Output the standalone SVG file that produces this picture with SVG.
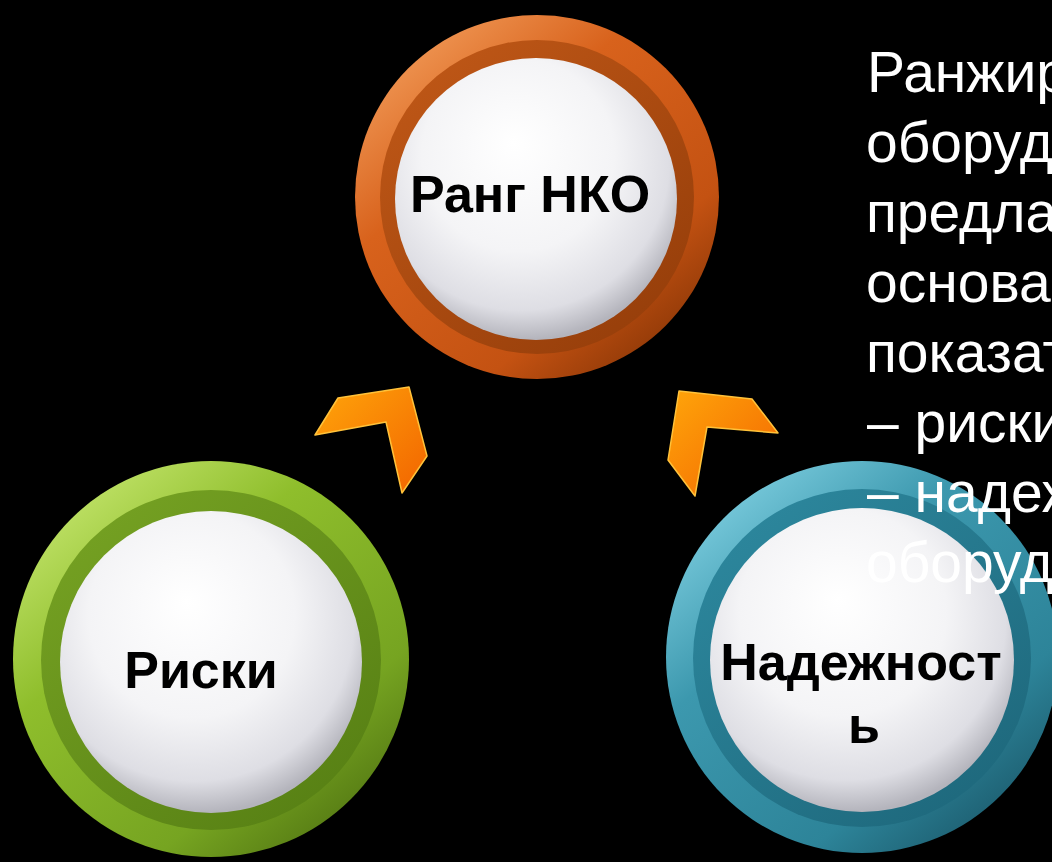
<svg xmlns="http://www.w3.org/2000/svg" width="1052" height="862" viewBox="0 0 1052 862">
  <defs>
    <!-- white face of each button -->
    <radialGradient id="face" cx="0.45" cy="0.38" r="0.62" fx="0.42" fy="0.3">
      <stop offset="0" stop-color="#ffffff"/>
      <stop offset="0.55" stop-color="#f4f4f6"/>
      <stop offset="0.85" stop-color="#dedee4"/>
      <stop offset="1" stop-color="#b4b4bc"/>
    </radialGradient>
    <!-- outer rims -->
    <linearGradient id="rimOrange" x1="0.15" y1="0.1" x2="0.85" y2="0.95">
      <stop offset="0" stop-color="#ee9350"/>
      <stop offset="0.3" stop-color="#d8621c"/>
      <stop offset="0.75" stop-color="#c45212"/>
      <stop offset="1" stop-color="#8a3606"/>
    </linearGradient>
    <linearGradient id="bandOrange" x1="0.15" y1="0.1" x2="0.85" y2="0.95">
      <stop offset="0" stop-color="#bd5616"/>
      <stop offset="1" stop-color="#963e0a"/>
    </linearGradient>
    <linearGradient id="rimGreen" x1="0.15" y1="0.1" x2="0.85" y2="0.95">
      <stop offset="0" stop-color="#bde064"/>
      <stop offset="0.3" stop-color="#8fbe2c"/>
      <stop offset="0.75" stop-color="#76a421"/>
      <stop offset="1" stop-color="#527612"/>
    </linearGradient>
    <linearGradient id="bandGreen" x1="0.15" y1="0.1" x2="0.85" y2="0.95">
      <stop offset="0" stop-color="#74a022"/>
      <stop offset="1" stop-color="#578014"/>
    </linearGradient>
    <linearGradient id="rimTeal" x1="0.15" y1="0.1" x2="0.85" y2="0.95">
      <stop offset="0" stop-color="#76c8da"/>
      <stop offset="0.3" stop-color="#3c98ae"/>
      <stop offset="0.75" stop-color="#2d8499"/>
      <stop offset="1" stop-color="#1b5a6c"/>
    </linearGradient>
    <linearGradient id="bandTeal" x1="0.15" y1="0.1" x2="0.85" y2="0.95">
      <stop offset="0" stop-color="#2c869c"/>
      <stop offset="1" stop-color="#1e687c"/>
    </linearGradient>
    <!-- chevron fill -->
    <linearGradient id="chevron" x1="0" y1="0" x2="1" y2="1">
      <stop offset="0" stop-color="#ffa50a"/>
      <stop offset="1" stop-color="#f26400"/>
    </linearGradient>
    <style>
      .label { font-family: "Liberation Sans", Arial, sans-serif; font-weight: bold; font-size: 52px; fill: #000000; text-anchor: middle; }
      .desc { font-family: "Liberation Sans", Arial, sans-serif; font-size: 57px; fill: #ffffff; }
      .arrow { fill: url(#chevron); stroke: #ffc23a; stroke-width: 1.5; stroke-linejoin: round; }
      .face { fill: url(#face); }
    </style>
  </defs>

  <rect width="1052" height="862" fill="#000000"/>

  <!-- top node -->
  <g id="node-rang-nko">
    <circle cx="537" cy="197" r="182" fill="url(#rimOrange)"/>
    <circle cx="537" cy="197" r="157" fill="url(#bandOrange)"/>
    <circle cx="536" cy="199" r="141" class="face"/>
    <text class="label" x="530" y="212">Ранг НКО</text>
  </g>

  <!-- bottom-left node -->
  <g id="node-riski">
    <circle cx="211" cy="659" r="198" fill="url(#rimGreen)"/>
    <circle cx="211" cy="660" r="170" fill="url(#bandGreen)"/>
    <circle cx="211" cy="662" r="151" class="face"/>
    <text class="label" x="201" y="688">Риски</text>
  </g>

  <!-- bottom-right node -->
  <g id="node-nadezhnost">
    <circle cx="862" cy="657" r="196" fill="url(#rimTeal)"/>
    <circle cx="862" cy="658" r="169" fill="url(#bandTeal)"/>
    <circle cx="862" cy="660" r="152" class="face"/>
    <text class="label" x="861" y="680">Надежност</text>
    <text class="label" x="864" y="743">ь</text>
  </g>

  <!-- chevron connectors pointing to the top node -->
  <g id="connectors">
    <polygon class="arrow" points="315,435 338,398 409,387 427,456 402,493 386,422"/>
    <polygon class="arrow" points="679,391 752,399 778,433 707,427 695,496 668,460"/>
  </g>

  <!-- description text, running off the right edge -->
  <g id="description">
    <text class="desc" x="867" y="92">Ранжир</text>
    <text class="desc" x="866" y="162">оборуд</text>
    <text class="desc" x="866" y="232">предла</text>
    <text class="desc" x="866" y="302">основа</text>
    <text class="desc" x="866" y="372">показат</text>
    <text class="desc" x="867" y="442">– риски</text>
    <text class="desc" x="867" y="512">– надеж</text>
    <text class="desc" x="866" y="582">оборуд</text>
  </g>
</svg>
